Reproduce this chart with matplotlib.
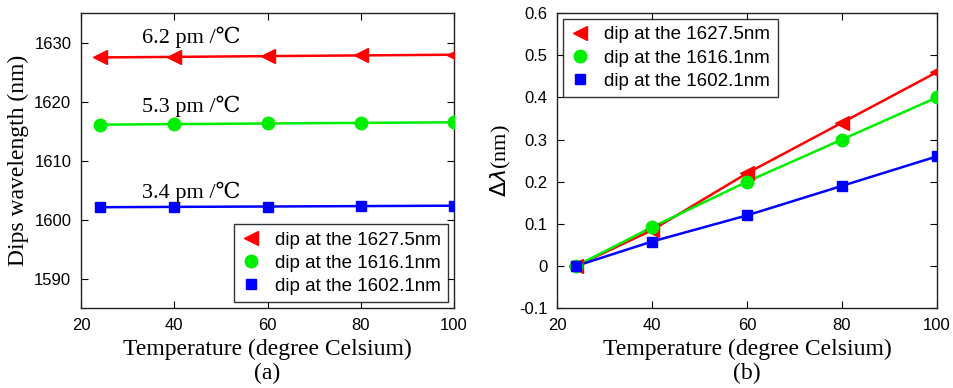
import matplotlib
matplotlib.use("Agg")
from matplotlib import pyplot as plt

temps = [24, 40, 60, 80, 100]

# dip wavelengths (nm)
dip_1627 = [1627.5, 1627.59, 1627.72, 1627.84, 1627.96]
dip_1616 = [1616.1, 1616.19, 1616.30, 1616.40, 1616.50]
dip_1602 = [1602.1, 1602.16, 1602.22, 1602.29, 1602.36]

# wavelength shifts (nm)
shift_1627 = [0.0, 0.085, 0.22, 0.34, 0.46]
shift_1616 = [0.0, 0.092, 0.20, 0.30, 0.40]
shift_1602 = [0.0, 0.058, 0.12, 0.19, 0.26]

labels = ["dip at the 1627.5nm", "dip at the 1616.1nm", "dip at the 1602.1nm"]
sensitivities = ["6.2 pm /\u2103", "5.3 pm /\u2103", "3.4 pm /\u2103"]

colors = ["#ff0000", "#00ee00", "#0000ff"]
markers = ["<", "o", "s"]
msizes = [9.5, 9, 7.5]

sans = ["Liberation Sans", "DejaVu Sans"]
serif = ["Liberation Serif", "DejaVu Serif"]

fig = plt.figure(figsize=(9.54, 3.88), dpi=100)
ax1 = fig.add_axes([0.085, 0.206, 0.391, 0.760])
ax2 = fig.add_axes([0.584, 0.206, 0.398, 0.760])


def draw(ax, series):
    for y, c, m, ms, lab in zip(series, colors, markers, msizes, labels):
        ax.plot(temps, y, color=c, lw=1.8, zorder=2)
        ax.plot(temps, y, ls="none", marker=m, ms=ms, color=c, label=lab, zorder=3)
    ax.set_xlim(20, 100)
    ax.set_xticks([20, 40, 60, 80, 100])
    ax.tick_params(direction="in", top=True, right=True, length=5, labelsize=12, pad=7)
    for s in ax.spines.values():
        s.set_linewidth(1.0)
        s.set_color("#222222")
    ax.set_xlabel("Temperature (degree Celsium)", family=serif, fontsize=17, labelpad=4)


def legend(ax, loc):
    leg = ax.legend(loc=loc, prop={"family": sans, "size": 13.5}, frameon=True,
                    fancybox=False, edgecolor="black", handlelength=1.0,
                    handletextpad=0.8, borderpad=0.4, labelspacing=0.32,
                    borderaxespad=0.3)
    leg.get_frame().set_linewidth(1.0)


draw(ax1, [dip_1627, dip_1616, dip_1602])
ax1.set_ylim(1585, 1635)
ax1.set_yticks([1590, 1600, 1610, 1620, 1630])
for t in ax1.get_xticklabels() + ax1.get_yticklabels():
    t.set_family(sans)
ax1.set_ylabel("Dips wavelength (nm)", family=serif, fontsize=17, labelpad=4)
for txt, yv in zip(sensitivities, [1630.9, 1619.2, 1604.7]):
    ax1.text(33, yv, txt, family=serif, fontsize=16, va="center", ha="left")
legend(ax1, "lower right")

draw(ax2, [shift_1627, shift_1616, shift_1602])
ax2.set_ylim(-0.1, 0.6)
ax2.set_yticks([-0.1, 0, 0.1, 0.2, 0.3, 0.4, 0.5, 0.6])
ax2.set_yticklabels(["-0.1", "0", "0.1", "0.2", "0.3", "0.4", "0.5", "0.6"])
for t in ax2.get_xticklabels() + ax2.get_yticklabels():
    t.set_family(sans)
ax2.set_ylabel(r"$\Delta\lambda$(nm)", family=serif, fontsize=16, labelpad=4)
legend(ax2, "upper left")

fig.text(0.280, 0.038, "(a)", family=serif, fontsize=17, ha="center", va="center")
fig.text(0.783, 0.038, "(b)", family=serif, fontsize=17, ha="center", va="center")

fig.savefig("out.png", dpi=100)
